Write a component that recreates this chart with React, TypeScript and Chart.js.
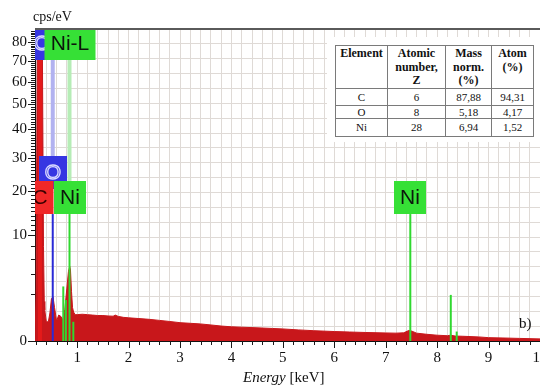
import React, { useEffect, useRef } from 'react';
import { Chart, registerables, LinearScale } from 'chart.js';

Chart.register(...registerables);

// ---- Square-root intensity scale (EDS style) ----
class SqrtScale extends LinearScale {
  static id = 'sqrt';
  static defaults = LinearScale.defaults;
  configure() {
    super.configure();
    (this as any)._sMin = Math.sqrt(Math.max(0, (this as any).min));
    (this as any)._sMax = Math.sqrt(Math.max(0, (this as any).max));
  }
  getPixelForValue(value: any) {
    if (value === null || value === undefined || isNaN(value)) return NaN;
    const s = Math.sqrt(Math.max(0, value));
    const a = (this as any)._sMin, b = (this as any)._sMax;
    return (this as any).getPixelForDecimal((s - a) / (b - a));
  }
  getValueForPixel(pixel: number) {
    const d = (this as any).getDecimalForPixel(pixel);
    const a = (this as any)._sMin, b = (this as any)._sMax;
    const s = a + d * (b - a);
    return s * s;
  }
}
Chart.register(SqrtScale as any);

// ---- Data ----
const spectrumEnergy = [0.18, 0.2, 0.23, 0.32, 0.345, 0.36, 0.37, 0.4, 0.44, 0.47, 0.5, 0.53, 0.56, 0.6, 0.64, 0.68, 0.72, 0.76, 0.8, 0.83, 0.855, 0.87, 0.89, 0.91, 0.93, 0.96, 1.0, 1.1, 1.2, 1.3, 1.4, 1.5, 1.6, 1.7, 1.74, 1.8, 1.9, 2.0, 2.2, 2.4, 2.6, 2.8, 3.0, 3.2, 3.4, 3.6, 3.8, 4.0, 4.2, 4.4, 4.6, 4.8, 5.0, 5.3, 5.6, 6.0, 6.3, 6.6, 7.0, 7.2, 7.35, 7.45, 7.5, 7.6, 7.8, 8.0, 8.2, 8.26, 8.35, 8.5, 8.8, 9.0, 9.3, 9.6, 10.0];
const spectrumCps = [0, 2, 95, 95, 8, 1.4, 0.86, 0.33, 0.33, 0.7, 1.6, 1.75, 1.0, 0.35, 0.6, 0.55, 0.4, 0.9, 2.5, 4.3, 5.0, 4.5, 2.2, 1.0, 0.75, 0.62, 0.62, 0.64, 0.62, 0.6, 0.58, 0.58, 0.56, 0.55, 0.6, 0.54, 0.5, 0.48, 0.45, 0.42, 0.38, 0.34, 0.3, 0.28, 0.26, 0.23, 0.2, 0.18, 0.17, 0.16, 0.15, 0.14, 0.13, 0.11, 0.095, 0.08, 0.072, 0.065, 0.058, 0.055, 0.06, 0.1, 0.09, 0.055, 0.04, 0.03, 0.025, 0.03, 0.022, 0.02, 0.015, 0.01, 0.008, 0.006, 0.004];

// Element marker lines (solid, from baseline up to top value)
const markerElem = ['C', 'O', 'Ni', 'Ni', 'Ni', 'Ni', 'Ni', 'Ni', 'Ni'];
const markerEnergy = [0.277, 0.525, 0.851, 0.73, 0.78, 0.925, 7.478, 8.265, 8.38];
const markerTop = [120, 14.4, 14.4, 2.66, 1.5, 0.33, 14.4, 1.9, 0.08];

// Faint marker segments above the labels
const faintElem = ['O', 'Ni'];
const faintEnergy = [0.525, 0.851];
const faintFrom = [30.6, 22.9];
const faintTo = [70.8, 70.8];

// Element labels
const labelText = ['O', 'C', 'Ni', 'Ni', 'O', 'Ni-L'];
const labelElem = ['O', 'C', 'Ni', 'Ni', 'O', 'Ni'];
const labelEnergy = [0.525, 0.277, 0.851, 7.478, 0.32, 0.851];
const labelLevel = [20.6, 14.4, 14.4, 14.4, 70.8, 70.8];

// Axis ticks
const xTickValues = Array.from({ length: 50 }, (_, i) => Math.round((i + 1) * 2) / 10);
const yTickValues = [0, 2, 4, 6, 8, ...Array.from({ length: 77 }, (_, i) => 10 + i)];
const yLabelValues = [0, 10, 20, 30, 40, 50, 60, 70, 80];

// Table
const tableHeader = ['Element', 'Atomic number, Z', 'Mass norm. (%)', 'Atom (%)'];
const tableElements = ['C', 'O', 'Ni'];
const tableZ = ['6', '8', '28'];
const tableMass = ['87,88', '5,18', '6,94'];
const tableAtom = ['94,31', '4,17', '1,52'];

// ---- Styles ----
const lineColor: Record<string, string> = { C: '#e41a1a', O: '#2a2ad6', Ni: '#30d830' };
const lineWidth: Record<string, number> = { C: 4, O: 2, Ni: 2 };
const faintColor: Record<string, string> = { O: '#b2b2f0', Ni: '#b6ecb6' };
const boxFill: Record<string, string> = { C: '#f02828', O: '#3636e2', Ni: '#36e036' };
const boxText: Record<string, string> = { C: '#3a0000', O: '#dadaff', Ni: '#0c160c' };
const gridColor = '#dfdad6';
const spectrumColor = '#c8171b';
const serif = '"Liberation Serif", "Times New Roman", serif';

const isMultiple = (v: number, m: number) => Math.abs(v / m - Math.round(v / m)) < 1e-6;

const labelsPlugin = {
  id: 'elementLabels',
  afterDatasetsDraw(chart: any) {
    const { ctx, chartArea: a, scales } = chart;
    const x = scales.x, y = scales.y;
    const BOX_H = 33, PAD = 6;
    ctx.save();
    ctx.beginPath();
    ctx.rect(a.left, a.top, a.right - a.left, a.bottom - a.top);
    ctx.clip();
    ctx.font = '21px "Liberation Sans", Arial, sans-serif';
    ctx.textAlign = 'center';
    ctx.textBaseline = 'middle';
    labelText.forEach((t, i) => {
      const el = labelElem[i];
      const cx = Math.round(x.getPixelForValue(labelEnergy[i]));
      const bottom = Math.round(y.getPixelForValue(labelLevel[i]));
      const w = Math.round(ctx.measureText(t).width + 2 * PAD);
      ctx.fillStyle = boxFill[el];
      ctx.fillRect(cx - w / 2, bottom - BOX_H, w, BOX_H);
      const ty = bottom - BOX_H / 2 + 1;
      if (el === 'O') {
        ctx.lineWidth = 1.3;
        ctx.strokeStyle = boxText[el];
        ctx.strokeText(t, cx, ty);
      } else {
        ctx.fillStyle = boxText[el];
        ctx.fillText(t, cx, ty);
      }
    });
    ctx.restore();
  },
};

const frame = {
  id: 'frameTicks',
  afterDraw(chart: any) {
    const { ctx, chartArea: a, scales } = chart;
    const x = scales.x, y = scales.y;
    ctx.save();
    ctx.strokeStyle = '#5a5a5a';
    ctx.lineWidth = 2;
    ctx.beginPath();
    ctx.moveTo(a.left, a.top);
    ctx.lineTo(a.right, a.top);
    ctx.stroke();
    ctx.strokeStyle = '#1a1a1a';
    ctx.lineWidth = 1;
    x.ticks.forEach((t: any) => {
      const px = Math.round(x.getPixelForValue(t.value)) + 0.5;
      const len = isMultiple(t.value, 1) ? 7 : 4;
      ctx.beginPath();
      ctx.moveTo(px, a.bottom);
      ctx.lineTo(px, a.bottom + len);
      ctx.stroke();
    });
    y.ticks.forEach((t: any) => {
      const py = Math.round(y.getPixelForValue(t.value)) + 0.5;
      const len = isMultiple(t.value, 10) ? 7 : 4;
      ctx.beginPath();
      ctx.moveTo(a.left, py);
      ctx.lineTo(a.left - len, py);
      ctx.stroke();
    });
    ctx.restore();
  },
};

export default function App() {
  const ref = useRef<HTMLCanvasElement>(null);
  useEffect(() => {
    const datasets: any[] = [];
    markerEnergy.forEach((e, i) => {
      const el = markerElem[i];
      datasets.push({
        data: [{ x: e, y: 0 }, { x: e, y: markerTop[i] }],
        borderColor: lineColor[el],
        borderWidth: lineWidth[el],
        pointRadius: 0,
        fill: false,
        borderCapStyle: 'butt',
        order: 1,
        clip: 0,
      });
    });
    faintEnergy.forEach((e, i) => {
      const el = faintElem[i];
      datasets.push({
        data: [{ x: e, y: faintFrom[i] }, { x: e, y: faintTo[i] }],
        borderColor: faintColor[el],
        borderWidth: 4,
        pointRadius: 0,
        fill: false,
        borderCapStyle: 'butt',
        order: 5,
        clip: 0,
      });
    });
    datasets.push({
      data: spectrumEnergy.map((e, i) => ({ x: e, y: spectrumCps[i] })),
      borderColor: spectrumColor,
      backgroundColor: spectrumColor,
      borderWidth: 1,
      pointRadius: 0,
      fill: 'origin',
      tension: 0,
      order: 10,
      clip: 0,
    });

    const chart = new Chart(ref.current as HTMLCanvasElement, {
      type: 'line',
      data: { datasets },
      plugins: [labelsPlugin, frame],
      options: {
        animation: false,
        responsive: false,
        devicePixelRatio: 1,
        layout: { padding: { top: 29, left: 0, right: 0, bottom: 0 } },
        plugins: { legend: { display: false }, tooltip: { enabled: false } },
        scales: {
          x: {
            type: 'linear',
            position: 'bottom',
            min: 0.18,
            max: 10,
            afterBuildTicks: (s: any) => { s.ticks = xTickValues.map((v) => ({ value: v })); },
            afterFit: (s: any) => { s.height = 47; s.paddingLeft = 0; s.paddingRight = 0; },
            grid: { color: gridColor, drawTicks: false, lineWidth: 1 },
            border: { color: '#111', width: 1 },
            ticks: {
              autoSkip: false,
              maxRotation: 0,
              padding: 8,
              color: '#111',
              font: { family: serif, size: 15 },
              callback: (v: any) => (isMultiple(Number(v), 1) ? String(Math.round(Number(v))) : ''),
            },
          },
          y: {
            type: 'sqrt' as any,
            position: 'left',
            min: 0,
            max: 87,
            afterBuildTicks: (s: any) => { s.ticks = yTickValues.map((v) => ({ value: v })); },
            afterFit: (s: any) => { s.width = 35; s.paddingTop = 0; s.paddingBottom = 0; },
            grid: { display: false, drawTicks: false },
            border: { color: '#111', width: 1 },
            ticks: {
              autoSkip: false,
              padding: 8,
              color: '#111',
              font: { family: serif, size: 15 },
              callback: (v: any) => (yLabelValues.includes(Number(v)) ? String(v) : ''),
            },
          } as any,
          y2: {
            type: 'linear',
            position: 'right',
            min: 0,
            max: 21,
            afterFit: (s: any) => { s.width = 0; s.paddingTop = 0; s.paddingBottom = 0; },
            ticks: { display: false, stepSize: 1 },
            grid: { color: gridColor, drawTicks: false, lineWidth: 1 },
            border: { display: false },
          },
        },
      },
    });
    return () => chart.destroy();
  }, []);

  const cell: React.CSSProperties = { border: '1px solid #7a7a7a', padding: 0, textAlign: 'center' };
  const headCell: React.CSSProperties = { ...cell, verticalAlign: 'top', fontWeight: 'bold', fontSize: 12, lineHeight: '13.5px', paddingTop: 1 };
  const headWidths = [52, 58, 46, 42];
  const rowHeights = [17, 13, 18];

  return (
    <div style={{ position: 'absolute', left: 0, top: 0, width: 540, height: 388, background: '#fff', overflow: 'hidden' }}>
      <canvas ref={ref} width={540} height={388} style={{ display: 'block', width: 540, height: 388 }} />
      <div style={{ position: 'absolute', left: 33, top: 9, fontFamily: serif, fontSize: 14, lineHeight: '16px', color: '#111' }}>cps/eV</div>
      <div style={{ position: 'absolute', left: 243, top: 369, fontFamily: serif, fontSize: 15, lineHeight: '17px', color: '#111', whiteSpace: 'nowrap' }}>
        <span style={{ fontStyle: 'italic' }}>Energy</span> [keV]
      </div>
      <div style={{ position: 'absolute', left: 519, top: 315, fontFamily: serif, fontSize: 15, lineHeight: '17px', color: '#111' }}>b)</div>
      <div style={{ position: 'absolute', left: 327, top: 37, width: 213, height: 105, background: '#fff' }} />
      <table style={{ position: 'absolute', left: 335, top: 45, borderCollapse: 'collapse', fontFamily: serif, fontSize: 11, color: '#111', tableLayout: 'fixed', width: 198 }}>
        <colgroup>
          {headWidths.map((w, i) => <col key={i} style={{ width: w }} />)}
        </colgroup>
        <tbody>
          <tr style={{ height: 42 }}>
            {tableHeader.map((h, i) => (
              <td key={i} style={headCell}>
                {i === 1 ? <>Atomic<br />number,<br />Z</> : i === 2 ? <>Mass<br />norm.<br />(%)</> : i === 3 ? <>Atom<br />(%)</> : h}
              </td>
            ))}
          </tr>
          {tableElements.map((el, r) => (
            <tr key={el} style={{ height: rowHeights[r] }}>
              <td style={cell}>{el}</td>
              <td style={cell}>{tableZ[r]}</td>
              <td style={cell}>{tableMass[r]}</td>
              <td style={cell}>{tableAtom[r]}</td>
            </tr>
          ))}
        </tbody>
      </table>
    </div>
  );
}
